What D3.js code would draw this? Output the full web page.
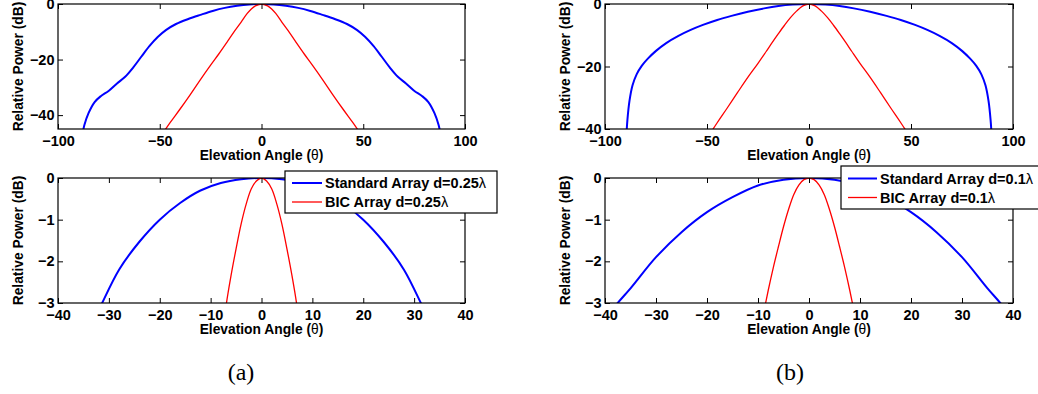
<!DOCTYPE html>
<html>
<head>
<meta charset="utf-8">
<script src="https://cdn.jsdelivr.net/npm/d3@7"></script>
<style>
  html, body { margin: 0; padding: 0; background: #fff; }
  svg { display: block; }
</style>
</head>
<body>
<svg id="chart" width="1038" height="394"></svg>
<script>
// (a) d = 0.25 lambda, wide view
const thetaStdA = [-88, -87, -85, -82, -79, -75, -71, -67, -63, -59, -55, -51, -47, -42, -36, -30, -24, -18, -12, -6, 0,
  6, 12, 18, 24, 30, 36, 42, 47, 51, 55, 59, 63, 67, 71, 75, 79, 82, 85, 87, 88];
const stdA = [-47, -43.5, -39.3, -35.3, -33.2, -31.2, -28.6, -26.2, -22.8, -18.9, -15.1, -11.9, -9.4, -7.2, -5.4, -3.9, -2.5, -1.4, -0.65, -0.17, 0,
  -0.17, -0.65, -1.4, -2.5, -3.9, -5.4, -7.2, -9.4, -11.9, -15.1, -18.9, -22.8, -26.2, -28.6, -31.2, -33.2, -35.3, -39.3, -43.5, -47];
const thetaBicA = [-48, -45, -40, -35, -30, -25, -21, -17, -13, -10, -7, -5, -3, 0, 3, 5, 7, 10, 13, 17, 21, 25, 30, 35, 40, 45, 48];
const bicA = [-46, -42.8, -37.8, -32.6, -27.2, -22, -18, -13.8, -9.5, -6.5, -3.4, -1.8, -0.7, 0,
  -0.7, -1.8, -3.4, -6.5, -9.5, -13.8, -18, -22, -27.2, -32.6, -37.8, -42.8, -46];

// (a) zoomed main lobe
const thetaStdAZoom = [-34, -32, -28, -24, -20, -16, -12, -8, -4, 0, 4, 8, 12, 16, 20, 24, 28, 32, 34];
const stdAZoom = [-3.65, -3.17, -2.2, -1.53, -1.0, -0.6, -0.3, -0.12, -0.03, 0, -0.03, -0.12, -0.3, -0.6, -1.0, -1.53, -2.2, -3.17, -3.65];
const thetaBicAZoom = [-8, -7, -6, -5, -4, -3, -2, -1, 0, 1, 2, 3, 4, 5, 6, 7, 8];
const bicAZoom = [-4.2, -3.1, -2.35, -1.7, -1.1, -0.62, -0.26, -0.07, 0, -0.07, -0.26, -0.62, -1.1, -1.7, -2.35, -3.1, -4.2];

// (b) d = 0.1 lambda, wide view
const thetaStdB = [-89.5, -89, -88, -86.5, -84.5, -82, -79, -75, -70, -64, -58, -52, -45, -38, -30, -22, -15, -8, 0,
  8, 15, 22, 30, 38, 45, 52, 58, 64, 70, 75, 79, 82, 84.5, 86.5, 88, 89, 89.5];
const stdB = [-42, -37, -31, -26, -22.5, -19.8, -17.5, -15, -12.5, -10.2, -8.3, -6.7, -5.1, -3.8, -2.5, -1.4, -0.65, -0.2, 0,
  -0.2, -0.65, -1.4, -2.5, -3.8, -5.1, -6.7, -8.3, -10.2, -12.5, -15, -17.5, -19.8, -22.5, -26, -31, -37, -42];
const thetaBicB = [-50, -45, -40, -35, -30, -25, -21, -18, -15, -12, -9, -6, -3, 0, 3, 6, 9, 12, 15, 18, 21, 25, 30, 35, 40, 45, 50];
const bicB = [-43, -38, -33.2, -28.3, -23.5, -19, -15.2, -12.3, -9.5, -6.8, -4.3, -2.2, -0.6, 0,
  -0.6, -2.2, -4.3, -6.8, -9.5, -12.3, -15.2, -19, -23.5, -28.3, -33.2, -38, -43];

// (b) zoomed main lobe
const thetaStdBZoom = [-40, -37.5, -35, -30, -25, -20, -15, -10, -5, 0, 5, 10, 15, 20, 25, 30, 35, 37.5, 40];
const stdBZoom = [-3.4, -3.0, -2.65, -1.9, -1.3, -0.82, -0.46, -0.18, -0.04, 0, -0.04, -0.18, -0.46, -0.82, -1.3, -1.9, -2.65, -3.0, -3.4];
const thetaBicBZoom = [-9, -8, -7, -6, -5, -4, -3, -2, -1, 0, 1, 2, 3, 4, 5, 6, 7, 8, 9];
const bicBZoom = [-3.3, -2.7, -2.15, -1.65, -1.17, -0.75, -0.4, -0.17, -0.04, 0, -0.04, -0.17, -0.4, -0.75, -1.17, -1.65, -2.15, -2.7, -3.3];

const xTicksWide = [-100, -50, 0, 50, 100];
const xTicksZoom = [-40, -30, -20, -10, 0, 10, 20, 30, 40];
const yTicksWide = [-40, -20, 0];
const yTicksZoom = [-3, -2, -1, 0];

const legendA = ['Standard Array d=0.25', 'BIC Array d=0.25'];
const legendB = ['Standard Array d=0.1', 'BIC Array d=0.1'];
const captions = ['(a)', '(b)'];

const FONT = '"Liberation Sans", Arial, Helvetica, sans-serif';
const BLUE = '#0000ff';
const RED = '#ff0000';
const TICK = 5;

const svg = d3.select('#chart');
const defs = svg.append('defs');

const panels = [
  { id: 'a1', left: 58, right: 465, top: 4, bottom: 129, xDomain: [-100, 100], yDomain: [-45, 0], xTicks: xTicksWide, yTicks: yTicksWide,
    series: [{ x: thetaStdA, y: stdA, color: BLUE, width: 2 }, { x: thetaBicA, y: bicA, color: RED, width: 1.3 }] },
  { id: 'a2', left: 58, right: 465, top: 178, bottom: 303, xDomain: [-40, 40], yDomain: [-3, 0], xTicks: xTicksZoom, yTicks: yTicksZoom,
    series: [{ x: thetaStdAZoom, y: stdAZoom, color: BLUE, width: 2 }, { x: thetaBicAZoom, y: bicAZoom, color: RED, width: 1.3 }] },
  { id: 'b1', left: 605, right: 1013, top: 4, bottom: 129, xDomain: [-100, 100], yDomain: [-40, 0], xTicks: xTicksWide, yTicks: yTicksWide,
    series: [{ x: thetaStdB, y: stdB, color: BLUE, width: 2 }, { x: thetaBicB, y: bicB, color: RED, width: 1.3 }] },
  { id: 'b2', left: 605, right: 1013, top: 178, bottom: 303, xDomain: [-40, 40], yDomain: [-3, 0], xTicks: xTicksZoom, yTicks: yTicksZoom,
    series: [{ x: thetaStdBZoom, y: stdBZoom, color: BLUE, width: 2 }, { x: thetaBicBZoom, y: bicBZoom, color: RED, width: 1.3 }] }
];

panels.forEach(drawPanel);

drawLegend({ x: 285, y: 171, w: 212, h: 42, lineX0: 292, lineX1: 322, textX: 325, rows: [183, 202] }, legendA);
drawLegend({ x: 841, y: 166, w: 210, h: 43, lineX0: 848, lineX1: 877, textX: 880, rows: [178.5, 197.5] }, legendB);

svg.append('text')
  .attr('x', 241)
  .attr('y', 380)
  .attr('text-anchor', 'middle')
  .attr('font-family', '"Liberation Serif", "Times New Roman", serif')
  .attr('font-size', 24)
  .attr('fill', '#000')
  .text(captions[0]);

svg.append('text')
  .attr('x', 790)
  .attr('y', 380)
  .attr('text-anchor', 'middle')
  .attr('font-family', '"Liberation Serif", "Times New Roman", serif')
  .attr('font-size', 24)
  .attr('fill', '#000')
  .text(captions[1]);

function drawPanel(p) {
  const x = d3.scaleLinear().domain(p.xDomain).range([p.left, p.right]);
  const y = d3.scaleLinear().domain(p.yDomain).range([p.bottom, p.top]);

  defs.append('clipPath')
    .attr('id', `clip-${p.id}`)
    .append('rect')
    .attr('x', p.left)
    .attr('y', p.top)
    .attr('width', p.right - p.left)
    .attr('height', p.bottom - p.top);

  const g = svg.append('g');

  const line = d3.line()
    .x((d) => x(d[0]))
    .y((d) => y(d[1]))
    .curve(d3.curveCatmullRom.alpha(0.5));

  p.series.forEach((s) => {
    const pts = s.x.map((v, i) => [v, s.y[i]]);
    g.append('path')
      .datum(pts)
      .attr('clip-path', `url(#clip-${p.id})`)
      .attr('fill', 'none')
      .attr('stroke', s.color)
      .attr('stroke-width', s.width)
      .attr('stroke-linejoin', 'round')
      .attr('d', line);
  });

  const fmt = (d) => d3.format('')(d);

  const bottomAxis = g.append('g')
    .attr('transform', `translate(0,${p.bottom})`)
    .call(d3.axisBottom(x).tickValues(p.xTicks).tickSizeInner(-TICK).tickSizeOuter(0).tickPadding(6.3).tickFormat(fmt));
  const leftAxis = g.append('g')
    .attr('transform', `translate(${p.left},0)`)
    .call(d3.axisLeft(y).tickValues(p.yTicks).tickSizeInner(-TICK).tickSizeOuter(0).tickPadding(3.5).tickFormat(fmt));
  const topAxis = g.append('g')
    .attr('transform', `translate(0,${p.top})`)
    .call(d3.axisTop(x).tickValues(p.xTicks).tickSizeInner(-TICK).tickSizeOuter(0).tickFormat(''));
  const rightAxis = g.append('g')
    .attr('transform', `translate(${p.right},0)`)
    .call(d3.axisRight(y).tickValues(p.yTicks).tickSizeInner(-TICK).tickSizeOuter(0).tickFormat(''));

  [bottomAxis, leftAxis, topAxis, rightAxis].forEach((a) => {
    a.select('.domain').remove();
    a.attr('font-family', FONT).attr('font-size', 14.5).attr('font-weight', 'bold');
    a.selectAll('line').attr('stroke', '#000').attr('stroke-width', 1);
    a.selectAll('text').attr('fill', '#000');
  });

  g.append('rect')
    .attr('x', p.left)
    .attr('y', p.top)
    .attr('width', p.right - p.left)
    .attr('height', p.bottom - p.top)
    .attr('fill', 'none')
    .attr('stroke', '#000')
    .attr('stroke-width', 1.2);

  const xl = g.append('text')
    .attr('x', (p.left + p.right) / 2)
    .attr('y', p.bottom + 31)
    .attr('text-anchor', 'middle')
    .attr('font-family', FONT)
    .attr('font-size', 13.8)
    .attr('font-weight', 'bold')
    .attr('fill', '#000');
  xl.append('tspan').text('Elevation Angle (');
  xl.append('tspan').attr('font-weight', 'normal').text('θ');
  xl.append('tspan').text(')');

  g.append('text')
    .attr('transform', `translate(${p.left - 35},${(p.top + p.bottom) / 2}) rotate(-90)`)
    .attr('text-anchor', 'middle')
    .attr('font-family', FONT)
    .attr('font-size', 13.8)
    .attr('font-weight', 'bold')
    .attr('fill', '#000')
    .text('Relative Power (dB)');
}

function drawLegend(box, labels) {
  const g = svg.append('g');
  g.append('rect')
    .attr('x', box.x)
    .attr('y', box.y)
    .attr('width', box.w)
    .attr('height', box.h)
    .attr('fill', '#fff')
    .attr('stroke', '#000')
    .attr('stroke-width', 1.2);

  const colors = [BLUE, RED];
  const widths = [2, 1.3];
  labels.forEach((label, i) => {
    g.append('line')
      .attr('x1', box.lineX0)
      .attr('x2', box.lineX1)
      .attr('y1', box.rows[i])
      .attr('y2', box.rows[i])
      .attr('stroke', colors[i])
      .attr('stroke-width', widths[i]);
    const t = g.append('text')
      .attr('x', box.textX)
      .attr('y', box.rows[i] + 5.3)
      .attr('font-family', FONT)
      .attr('font-size', 14.5)
      .attr('font-weight', 'bold')
      .attr('fill', '#000');
    t.append('tspan').text(label);
    t.append('tspan').attr('font-weight', 'normal').text('λ');
  });
}
</script>
</body>
</html>
